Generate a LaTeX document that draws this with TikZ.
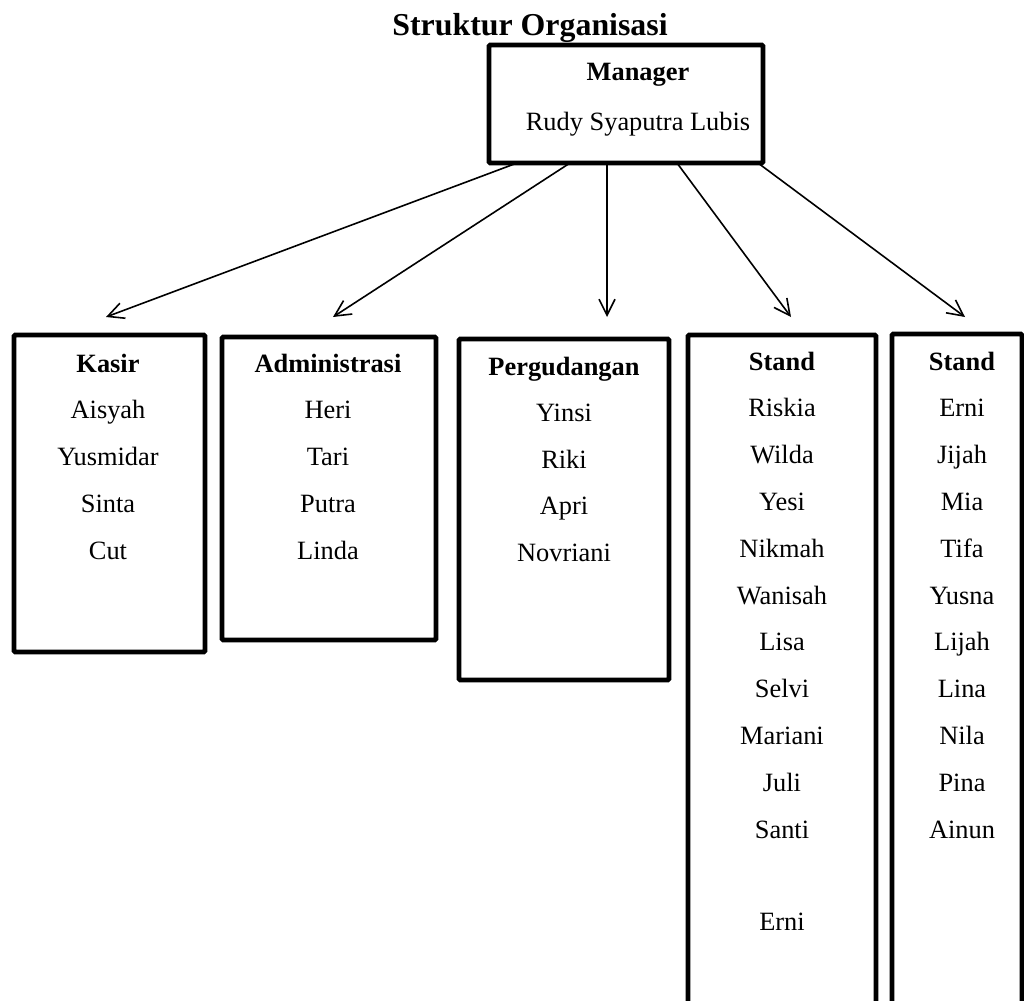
\documentclass[tikz,border=0pt]{standalone}
\usepackage{fontspec}
\setmainfont{Liberation Serif}
\usetikzlibrary{arrows.meta,fit}
\begin{document}
\begin{tikzpicture}[x=0.75pt,y=-0.75pt,
  box/.style={draw,line width=3.6pt,inner sep=0pt,outer sep=0pt,rounded corners=1pt},
  txt/.style={anchor=base,inner sep=0pt,font=\fontsize{19.8}{23}\selectfont},
  hdr/.style={txt,font=\fontsize{19.8}{23}\selectfont\bfseries},
  arr/.style={line width=1.2pt,-{Straight Barb[length=12pt,width=12pt,line width=1.2pt]}}]
\clip (0,0) rectangle (1024,1000);
\fill[white] (0,0) rectangle (1024,1000);
% title
\node[anchor=base,inner sep=0pt,font=\fontsize{23.9}{28}\selectfont\bfseries] (title) at (530,35) {Struktur Organisasi};
% manager
\node[box,fit={(489,45) (763,163)}] (mgr) {};
\node[hdr] (mgrh) at (638,80) {Manager};
\node[txt] (mgrn) at (638,130) {Rudy Syaputra Lubis};
% boxes
\node[box,fit={(14,335) (205,652)}] (kasir) {};
\node[box,fit={(222,337) (436,640)}] (admin) {};
\node[box,fit={(459,339) (669,680)}] (gudang) {};
\node[box,fit={(688,335) (876,1012)}] (standa) {};
\node[box,fit={(892,334) (1022,1012)}] (standb) {};
% headers
\node[hdr] (kasirh) at (108,372) {Kasir};
\node[hdr] (adminh) at (328,372) {Administrasi};
\node[hdr] (gudangh) at (564,375) {Pergudangan};
\node[hdr] (standah) at (782,370) {Stand};
\node[hdr] (standbh) at (962,370) {Stand};
% names
\foreach \t [count=\i] in {Aisyah,Yusmidar,Sinta,Cut}
  \node[txt] (kasir\i) at (108,{372+\i*46.8}) {\t};
\foreach \t [count=\i] in {Heri,Tari,Putra,Linda}
  \node[txt] (admin\i) at (328,{372+\i*46.8}) {\t};
\foreach \t [count=\i] in {Yinsi,Riki,Apri,Novriani}
  \node[txt] (gudang\i) at (564,{375+\i*46.6}) {\t};
\foreach \t [count=\i] in {Riskia,Wilda,Yesi,Nikmah,Wanisah,Lisa,Selvi,Mariani,Juli,Santi}
  \node[txt] (standa\i) at (782,{370+\i*46.8}) {\t};
\node[txt] (standa11) at (782,930) {Erni};
\foreach \t [count=\i] in {Erni,Jijah,Mia,Tifa,Yusna,Lijah,Lina,Nila,Pina,Ainun}
  \node[txt] (standb\i) at (962,{370+\i*46.8}) {\t};
% arrow ends
\coordinate (e1) at (106,317);
\coordinate (e2) at (333,317);
\coordinate (e3) at (607,317);
\coordinate (e4) at (791,317);
\coordinate (e5) at (965,317);
\draw[arr] (517,0 |- mgr.south) -- (e1);
\draw[arr] (570,0 |- mgr.south) -- (e2);
\draw[arr] (607,0 |- mgr.south) -- (e3);
\draw[arr] (677,0 |- mgr.south) -- (e4);
\draw[arr] (758,0 |- mgr.south) -- (e5);
\end{tikzpicture}
\end{document}
